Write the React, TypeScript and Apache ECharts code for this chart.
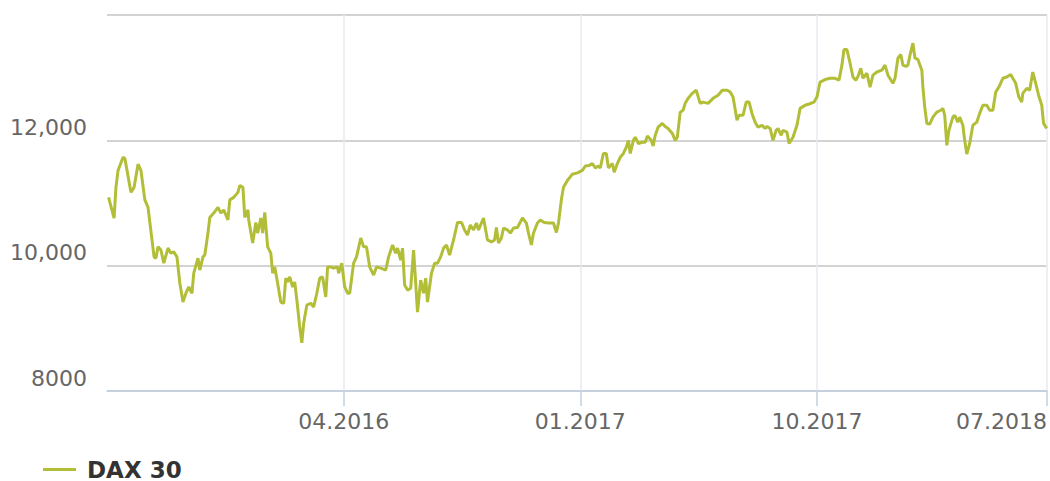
import React, { useEffect, useRef } from "react";
import * as echarts from "echarts";

// Months elapsed since 07.2015 (x position of each reading)
const monthOffsets: number[] = [
  0.06, 0.27, 0.34, 0.42, 0.61, 0.68, 0.91, 1.03, 1.18, 1.29, 1.44, 1.56, 1.79, 1.86, 1.94, 2.05,
  2.16, 2.32, 2.43, 2.54, 2.66, 2.77, 2.89, 3.0, 3.11, 3.23, 3.3, 3.46, 3.53, 3.65, 3.72, 3.84,
  3.91, 4.06, 4.22, 4.33, 4.44, 4.6, 4.67, 4.82, 4.98, 5.05, 5.17, 5.24, 5.36, 5.39, 5.54, 5.66,
  5.73, 5.85, 5.92, 6.0, 6.11, 6.23, 6.3, 6.38, 6.49, 6.61, 6.72, 6.8, 6.87, 6.95, 7.06, 7.14,
  7.25, 7.33, 7.41, 7.48, 7.6, 7.75, 7.86, 7.98, 8.09, 8.2, 8.32, 8.39, 8.51, 8.62, 8.77, 8.81,
  8.93, 9.04, 9.15, 9.23, 9.38, 9.49, 9.65, 9.76, 9.87, 9.99, 10.14, 10.25, 10.41, 10.6, 10.71, 10.86,
  10.98, 11.05, 11.17, 11.24, 11.32, 11.43, 11.55, 11.66, 11.81, 11.93, 12.04, 12.12, 12.19, 12.34, 12.46, 12.57,
  12.69, 12.8, 12.91, 13.03, 13.18, 13.33, 13.48, 13.6, 13.71, 13.82, 13.94, 14.05, 14.13, 14.32, 14.47, 14.62,
  14.74, 14.81, 14.89, 15.0, 15.08, 15.23, 15.34, 15.46, 15.61, 15.8, 15.95, 16.03, 16.14, 16.22, 16.37, 16.48,
  16.63, 16.79, 16.98, 17.09, 17.17, 17.28, 17.36, 17.51, 17.7, 17.89, 18.08, 18.19, 18.34, 18.46, 18.57, 18.69,
  18.76, 18.88, 18.99, 19.07, 19.22, 19.29, 19.41, 19.52, 19.64, 19.75, 19.83, 19.9, 20.02, 20.09, 20.21, 20.36,
  20.47, 20.55, 20.7, 20.77, 20.85, 20.96, 21.12, 21.23, 21.34, 21.5, 21.61, 21.69, 21.8, 21.91, 21.99, 22.1,
  22.26, 22.41, 22.56, 22.67, 22.86, 23.05, 23.24, 23.4, 23.59, 23.7, 23.81, 23.96, 24.04, 24.19, 24.31, 24.42,
  24.53, 24.65, 24.76, 24.91, 25.03, 25.1, 25.22, 25.33, 25.45, 25.52, 25.64, 25.71, 25.86, 25.94, 26.09, 26.24,
  26.36, 26.55, 26.7, 26.89, 27.0, 27.12, 27.31, 27.5, 27.69, 27.84, 27.95, 28.03, 28.14, 28.26, 28.37, 28.48,
  28.56, 28.67, 28.75, 28.9, 29.02, 29.13, 29.28, 29.47, 29.59, 29.7, 29.89, 29.97, 30.08, 30.19, 30.27, 30.38,
  30.46, 30.54, 30.65, 30.73, 30.84, 30.99, 31.03, 31.1, 31.18, 31.29, 31.41, 31.56, 31.71, 31.79, 31.86, 31.94,
  32.02, 32.17, 32.24, 32.36, 32.43, 32.55, 32.62, 32.7, 32.81, 32.93, 33.08, 33.19, 33.31, 33.46, 33.57, 33.69,
  33.8, 33.92, 34.07, 34.22, 34.37, 34.45, 34.56, 34.68, 34.79, 34.83, 34.98, 35.09, 35.21, 35.32, 35.43, 35.55,
  35.62, 35.74,
];

// DAX 30 index level at each reading
const daxValues: number[] = [
  11090, 10760, 11250, 11520, 11730, 11710, 11170, 11250, 11620, 11520, 11050, 10930, 10140, 10120, 10300, 10250,
  10040, 10280, 10200, 10220, 10140, 9720, 9420, 9560, 9660, 9560, 9880, 10120, 9930, 10140, 10170, 10520,
  10770, 10840, 10930, 10840, 10890, 10730, 11050, 11090, 11170, 11280, 11250, 10770, 10890, 10730, 10360, 10690,
  10520, 10760, 10520, 10850, 10300, 10200, 9880, 9980, 9720, 9420, 9400, 9800, 9740, 9820, 9660, 9740,
  9340, 9020, 8770, 9080, 9370, 9400, 9340, 9560, 9800, 9820, 9500, 9980, 9980, 9960, 9980, 9880,
  10040, 9660, 9560, 9560, 10040, 10140, 10440, 10300, 10300, 9980, 9850, 9980, 9960, 9930, 10140, 10330,
  10200, 10280, 10090, 10280, 9690, 9610, 9640, 10250, 9260, 9770, 9560, 9800, 9420, 9880, 10040, 10040,
  10140, 10280, 10330, 10170, 10410, 10690, 10690, 10570, 10490, 10650, 10570, 10680, 10570, 10760, 10410, 10380,
  10410, 10610, 10360, 10440, 10600, 10570, 10520, 10600, 10610, 10760, 10680, 10520, 10330, 10520, 10680, 10730,
  10690, 10680, 10680, 10530, 10680, 11050, 11250, 11360, 11460, 11480, 11520, 11590, 11600, 11630, 11560, 11590,
  11560, 11790, 11790, 11560, 11630, 11490, 11630, 11730, 11790, 11890, 12000, 11790, 12000, 12050, 11950, 11970,
  11970, 12070, 12000, 11910, 12080, 12210, 12270, 12220, 12190, 12110, 12000, 12050, 12450, 12480, 12590, 12670,
  12750, 12800, 12590, 12610, 12590, 12670, 12720, 12800, 12800, 12770, 12690, 12320, 12400, 12400, 12610, 12610,
  12430, 12290, 12210, 12240, 12190, 12220, 12190, 12000, 12160, 12190, 12080, 12160, 12130, 11950, 12050, 12240,
  12510, 12560, 12580, 12610, 12690, 12930, 12970, 12990, 12990, 12960, 13200, 13450, 13450, 13230, 13010, 12960,
  13020, 13150, 12990, 13070, 12850, 13040, 13090, 13120, 13200, 13040, 12910, 12990, 13310, 13370, 13200, 13180,
  13200, 13360, 13550, 13310, 13290, 13120, 12850, 12530, 12270, 12260, 12370, 12450, 12480, 12510, 12400, 11920,
  12160, 12370, 12400, 12290, 12370, 12240, 12000, 11780, 11950, 12240, 12290, 12430, 12560, 12560, 12480, 12480,
  12770, 12850, 12990, 13010, 13050, 12990, 12910, 12690, 12610, 12750, 12830, 12800, 13090, 12910, 12720, 12560,
  12270, 12190,
];

const seriesName = "DAX 30";
const xTickMonths: number[] = [9, 18, 27, 35.75]; // 04.2016, 01.2017, 10.2017, 07.2018
const yMin = 8000;
const yMax = 14000;
const yStep = 2000;

function monthLabel(v: number): string {
  const t = Math.round(v) + 6; // 0 -> July 2015
  const year = 2015 + Math.floor(t / 12);
  const month = (t % 12) + 1;
  return (month < 10 ? "0" : "") + month + "." + year;
}

function yLabel(v: number): string {
  return v >= 10000 ? v.toLocaleString("en-US") : String(v);
}

export default function App() {
  const ref = useRef<HTMLDivElement>(null);
  useEffect(() => {
    document.body.style.margin = "0";
    if (!ref.current) return;
    const chart = echarts.init(ref.current, undefined, { renderer: "svg" });
    const font = "'DejaVu Sans', Verdana, sans-serif";
    const data = monthOffsets.map((m, i) => [m, daxValues[i]]);
    chart.setOption({
      animation: false,
      backgroundColor: "#ffffff",
      grid: { left: 107, right: 3, top: 15, bottom: 90, containLabel: false },
      legend: {
        data: [seriesName],
        left: 43,
        top: 458,
        padding: 0,
        icon: "rect",
        itemWidth: 33,
        itemHeight: 3,
        itemGap: 0,
        textStyle: {
          fontFamily: font,
          fontSize: 23,
          fontWeight: "bold",
          color: "#333333",
          lineHeight: 18,
          padding: [0, 0, 0, 6],
        },
      },
      xAxis: {
        type: "value",
        min: 0,
        max: 35.75,
        interval: 9,
        axisLine: { show: true, lineStyle: { color: "#c0d0e0", width: 1.5 } },
        axisTick: {
          show: true,
          length: 15,
          customValues: xTickMonths,
          lineStyle: { color: "#c0d0e0", width: 1.5 },
        },
        axisLabel: {
          customValues: xTickMonths,
          formatter: monthLabel,
          fontFamily: font,
          fontSize: 22,
          color: "#666666",
          margin: 19,
          lineHeight: 22,
          alignMaxLabel: "right",
        },
        splitLine: { show: true, lineStyle: { color: "#e6ebf1", width: 1.5 } },
      },
      yAxis: {
        type: "value",
        min: yMin,
        max: yMax,
        interval: yStep,
        axisLine: { show: false },
        axisTick: { show: false },
        axisLabel: {
          formatter: yLabel,
          showMaxLabel: false,
          fontFamily: font,
          fontSize: 22,
          color: "#666666",
          margin: 20,
          lineHeight: 22,
          verticalAlign: "bottom",
          padding: [0, 0, 2, 0],
        },
        splitLine: { show: true, lineStyle: { color: "#c4c4c4", width: 1.5 } },
      },
      series: [
        {
          name: seriesName,
          type: "line",
          data,
          showSymbol: false,
          symbol: "none",
          color: "#b3be38",
          lineStyle: { color: "#b3be38", width: 3 },
          z: 3,
        },
      ],
    });
    return () => chart.dispose();
  }, []);
  return <div ref={ref} style={{ width: 1050, height: 481 }} />;
}
